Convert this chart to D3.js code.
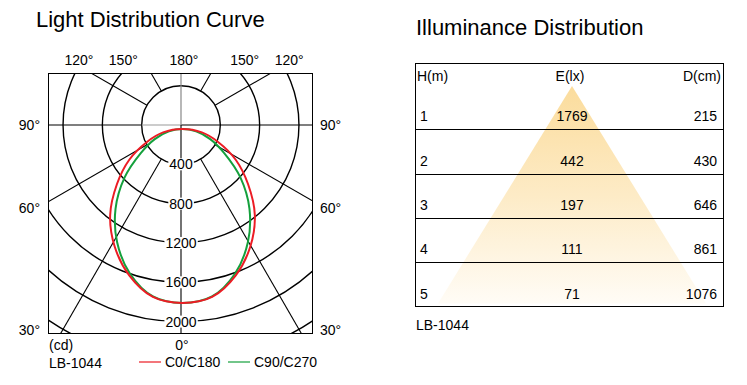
<!DOCTYPE html>
<html>
<head>
<meta charset="utf-8">
<script src="https://cdn.jsdelivr.net/npm/d3@7"></script>
<style>
body { margin: 0; background: #fff; }
text { font-family: Arial, "Liberation Sans", sans-serif; fill: #000; }
</style>
</head>
<body>
<div id="chart"></div>
<script>
// polar curve values, cd, by angle from nadir (mirrored on both halves)
const angles = [0, 10, 20, 30, 40, 50, 60, 70, 80, 90]
const c0c180  = [1769, 1735, 1585, 1380, 1145, 870, 625, 385, 200, 0]
const c90c270 = [1769, 1730, 1565, 1330, 1060, 770, 490, 300, 140, 0]

const rings = [400, 800, 1200, 1600, 2000, 2400, 2800]
const ringLabels = [400, 800, 1200, 1600, 2000]
const spokes = [30, 60, 120, 150]
const topLabels = [120, 150, 180]
const sideLabels = [90, 60, 30]

// illuminance table
const heights = [1, 2, 3, 4, 5]
const lux = [1769, 442, 197, 111, 71]
const diam = [215, 430, 646, 861, 1076]

const W = 747, H = 385
const svg = d3.select('#chart').append('svg')
  .attr('width', W).attr('height', H)
svg.append('rect').attr('width', W).attr('height', H).attr('fill', '#fff')

// ---------- left: light distribution curve ----------
const box = { x: 48, y: 73, w: 265, h: 261 }
const cx = 181, cy = 125
const r = d3.scaleLinear().domain([0, 2000]).range([0, 196.6])
const rad = d => d * Math.PI / 180
// screen point for angle from nadir (side -1 left, +1 right)
const pt = (deg, v, side, ox = cx, oy = cy) => [ox + side * v * Math.sin(rad(deg)), oy + v * Math.cos(rad(deg))]

svg.append('text').attr('x', 36).attr('y', 27)
  .style('font-size', '22px').text('Light Distribution Curve')

svg.append('clipPath').attr('id', 'pbox')
  .append('rect').attr('x', box.x).attr('y', box.y).attr('width', box.w).attr('height', box.h)

const grid = svg.append('g').attr('clip-path', 'url(#pbox)')

grid.selectAll('circle').data(rings).enter().append('circle')
  .attr('cx', cx).attr('cy', cy).attr('r', d => r(d))
  .attr('fill', 'none').attr('stroke', '#000').attr('stroke-width', 1.4)

const spokeData = []
spokes.forEach(a => { spokeData.push([a, -1]); spokeData.push([a, 1]) })
grid.selectAll('line.spoke').data(spokeData).enter().append('line')
  .attr('class', 'spoke')
  .attr('x1', d => pt(d[0], r(400), d[1])[0]).attr('y1', d => pt(d[0], r(400), d[1])[1])
  .attr('x2', d => pt(d[0], 500, d[1])[0]).attr('y2', d => pt(d[0], 500, d[1])[1])
  .attr('stroke', '#000').attr('stroke-width', 1.1)

// horizontal 90° line
grid.append('line').attr('x1', box.x).attr('x2', cx - r(400)).attr('y1', cy).attr('y2', cy)
  .attr('stroke', '#000').attr('stroke-width', 1.1)
grid.append('line').attr('x1', cx - r(400)).attr('x2', cx).attr('y1', cy).attr('y2', cy)
  .attr('stroke', '#999').attr('stroke-width', 1.1)
grid.append('line').attr('x1', cx).attr('x2', box.x + box.w).attr('y1', cy).attr('y2', cy)
  .attr('stroke', '#000').attr('stroke-width', 1.1)
// 180° line (grey)
grid.append('line').attr('x1', cx).attr('x2', cx).attr('y1', cy).attr('y2', box.y)
  .attr('stroke', '#888').attr('stroke-width', 1.2)

// ring value labels with white background
const rl = svg.append('g')
rl.selectAll('text').data(ringLabels).enter().append('text')
  .attr('x', cx).attr('y', d => cy + r(d) + 5)
  .attr('text-anchor', 'middle').style('font-size', '14px')
  .text(d => d)
  .each(function () {
    const b = this.getBBox()
    d3.select(this.parentNode).insert('rect', 'text')
      .attr('x', b.x - 1).attr('y', b.y + b.height / 2 - 6)
      .attr('width', b.width + 2).attr('height', 12).attr('fill', '#fff')
  })

// 0° line, drawn over labels
grid.append('line').attr('x1', cx).attr('x2', cx).attr('y1', cy).attr('y2', box.y + box.h)
  .attr('stroke', '#000').attr('stroke-width', 1.1)

svg.append('rect').attr('x', box.x + 0.5).attr('y', box.y + 0.5)
  .attr('width', box.w - 1).attr('height', box.h - 1)
  .attr('fill', 'none').attr('stroke', '#000').attr('stroke-width', 1)

// curves (the source plots them from a point a little below the grid centre)
const ox = cx + 1.5, oy = cy + 4
function curvePoints(vals) {
  const pts = []
  for (let i = angles.length - 1; i >= 0; i--) pts.push(pt(angles[i], r(vals[i]), -1, ox, oy))
  for (let i = 1; i < angles.length; i++) pts.push(pt(angles[i], r(vals[i]), 1, ox, oy))
  // drop repeated points (both halves meet at the origin)
  return pts.filter((p, i) => {
    const q = pts[(i + pts.length - 1) % pts.length]
    return Math.hypot(p[0] - q[0], p[1] - q[1]) > 0.01
  })
}
const line = d3.line().curve(d3.curveCatmullRomClosed.alpha(0.5))
svg.append('path').attr('d', line(curvePoints(c90c270)))
  .attr('fill', 'none').attr('stroke', '#14a03c').attr('stroke-width', 2)
svg.append('path').attr('d', line(curvePoints(c0c180)))
  .attr('fill', 'none').attr('stroke', '#ec1c24').attr('stroke-width', 2)

// angle labels
const labelR = r(1235)
topLabels.forEach(a => {
  const sides = a === 180 ? [1] : [-1, 1]
  sides.forEach(s => {
    svg.append('text')
      .attr('x', cx + 3 + s * labelR * Math.sin(rad(a))).attr('y', 65)
      .attr('text-anchor', 'middle').style('font-size', '14px').text(a + '°')
  })
})
const sideY = { 90: cy, 60: 208, 30: 330 }
sideLabels.forEach(a => {
  svg.append('text').attr('x', box.x - 8).attr('y', sideY[a] + 5)
    .attr('text-anchor', 'end').style('font-size', '14px').text(a + '°')
  svg.append('text').attr('x', box.x + box.w + 7).attr('y', sideY[a] + 5)
    .style('font-size', '14px').text(a + '°')
})
svg.append('text').attr('x', cx + 1).attr('y', 350)
  .attr('text-anchor', 'middle').style('font-size', '14px').text('0°')
svg.append('text').attr('x', 49).attr('y', 350).style('font-size', '14px').text('(cd)')
svg.append('text').attr('x', 49).attr('y', 368).style('font-size', '14px').text('LB-1044')

// legend
const legend = [
  { name: 'C0/C180', color: '#ec1c24', x: 139 },
  { name: 'C90/C270', color: '#14a03c', x: 228 }
]
legend.forEach(l => {
  svg.append('line').attr('x1', l.x).attr('x2', l.x + 22).attr('y1', 362).attr('y2', 362)
    .attr('stroke', l.color).attr('stroke-width', 1.2)
  svg.append('text').attr('x', l.x + 26).attr('y', 367).style('font-size', '14px').text(l.name)
})

// ---------- right: illuminance distribution ----------
svg.append('text').attr('x', 416).attr('y', 35)
  .style('font-size', '22px').text('Illuminance Distribution')

const tbl = { x0: 415.5, x1: 723.5, top: 63.5, head: 85, bottom: 306.5 }
const y = d3.scaleBand().domain(heights).range([tbl.head, tbl.bottom])
const colE = 572, colD = 717, colH = 420

const defs = svg.append('defs')
const grad = defs.append('linearGradient').attr('id', 'tri')
  .attr('x1', 0).attr('y1', 0).attr('x2', 0).attr('y2', 1)
grad.append('stop').attr('offset', '0%').attr('stop-color', '#fbdc9c')
grad.append('stop').attr('offset', '50%').attr('stop-color', '#fdebc6')
grad.append('stop').attr('offset', '100%').attr('stop-color', '#fffcf6')

const apexY = tbl.head + 1, baseY = tbl.bottom - 3, halfBase = 134
svg.append('path')
  .attr('d', d3.line()([[colE, apexY], [colE + halfBase, baseY], [colE - halfBase, baseY]]) + 'Z')
  .attr('fill', 'url(#tri)')

svg.append('rect').attr('x', tbl.x0).attr('y', tbl.top)
  .attr('width', tbl.x1 - tbl.x0).attr('height', tbl.bottom - tbl.top)
  .attr('fill', 'none').attr('stroke', '#000').attr('stroke-width', 1)
svg.selectAll('line.row').data(heights.slice(1)).enter().append('line')
  .attr('class', 'row')
  .attr('x1', tbl.x0).attr('x2', tbl.x1)
  .attr('y1', d => Math.round(y(d)) + 0.5).attr('y2', d => Math.round(y(d)) + 0.5)
  .attr('stroke', '#000').attr('stroke-width', 1)

const hy = 81
svg.append('text').attr('x', 417).attr('y', hy).style('font-size', '14px').text('H(m)')
svg.append('text').attr('x', colE - 2).attr('y', hy).attr('text-anchor', 'middle').style('font-size', '14px').text('E(lx)')
svg.append('text').attr('x', 721).attr('y', hy).attr('text-anchor', 'end').style('font-size', '14px').text('D(cm)')

const rows = svg.append('g')
heights.forEach((h, i) => {
  const by = y(h) + y.bandwidth() - 8
  rows.append('text').attr('x', colH).attr('y', by).style('font-size', '14px').text(h)
  rows.append('text').attr('x', colE).attr('y', by).attr('text-anchor', 'middle').style('font-size', '14px').text(lux[i])
  rows.append('text').attr('x', colD).attr('y', by).attr('text-anchor', 'end').style('font-size', '14px').text(diam[i])
})

svg.append('text').attr('x', 416).attr('y', 330).style('font-size', '14px').text('LB-1044')
</script>
</body>
</html>
